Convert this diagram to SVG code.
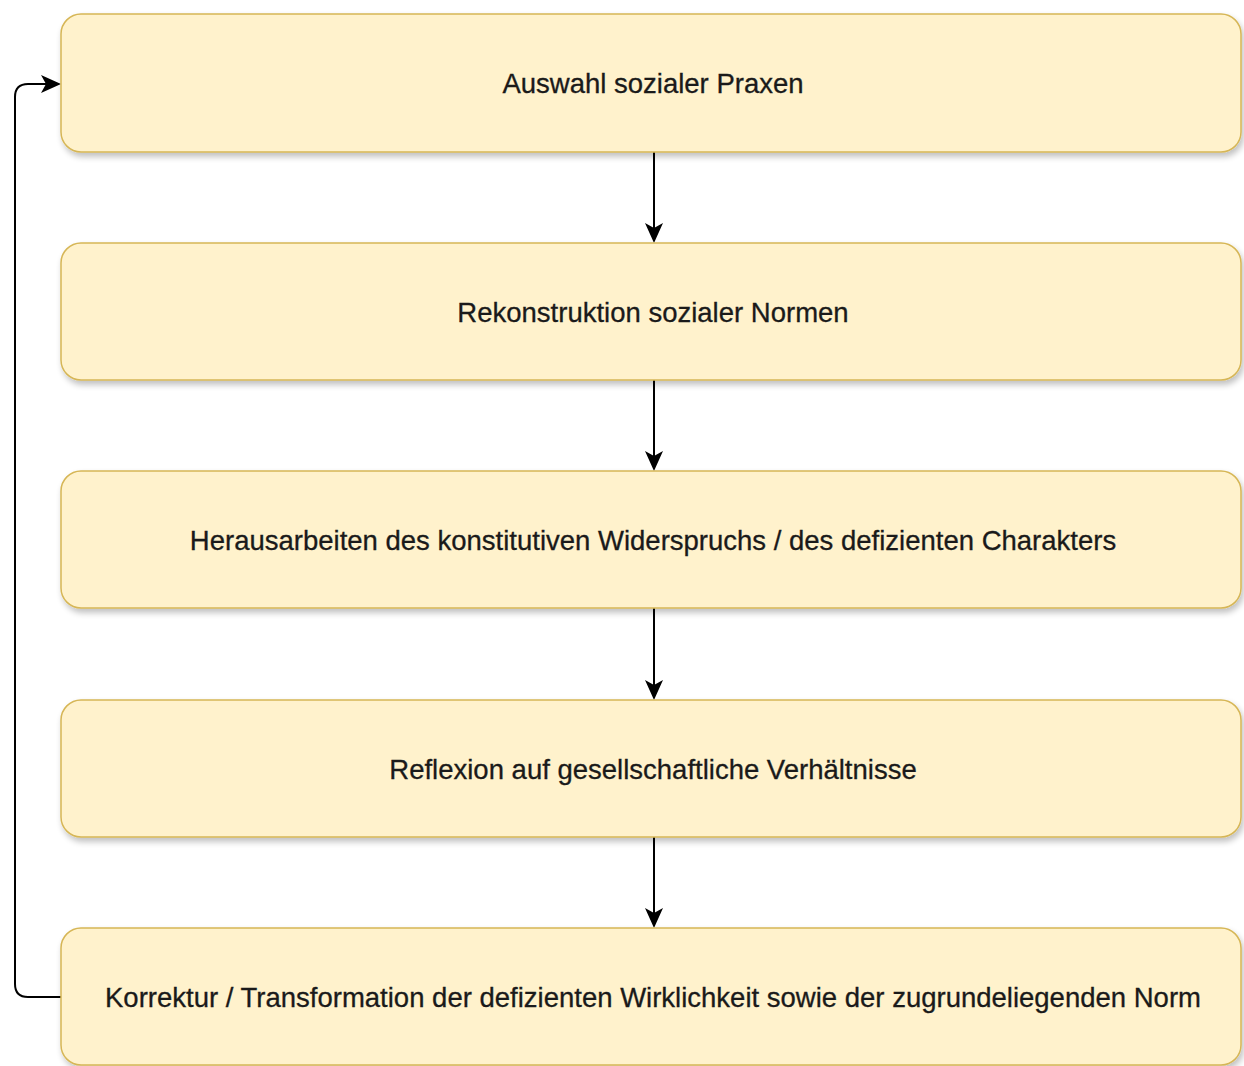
<svg xmlns="http://www.w3.org/2000/svg" width="1244" height="1066" viewBox="0 0 1244 1066">
<style>
.box{fill:#fff2cc;stroke:#d6b656;stroke-width:1.5;filter:url(#sh)}
.lbl{font-family:"Liberation Sans",Arial,sans-serif;font-size:27.5px;fill:#1a1a1a;stroke:#1a1a1a;stroke-width:0.3;text-anchor:middle;dominant-baseline:central}
.edge{fill:none;stroke:#000;stroke-width:2}
</style>
<defs>
<filter id="sh" x="-5%" y="-10%" width="110%" height="130%">
<feGaussianBlur in="SourceAlpha" stdDeviation="3"/>
<feOffset dx="2" dy="4" result="b"/>
<feComponentTransfer><feFuncA type="linear" slope="0.25"/></feComponentTransfer>
<feMerge><feMergeNode/><feMergeNode in="SourceGraphic"/></feMerge>
</filter>
<marker id="ah2" viewBox="0 0 10 10" refX="9" refY="5" markerWidth="20" markerHeight="20" markerUnits="userSpaceOnUse" orient="auto">
<path d="M0,0.5 L10,5 L0,9.5 L2.5,5 Z" fill="#000"/>
</marker>
</defs>
<g id="connectors">
<path class="edge" d="M654,152 V241" marker-end="url(#ah2)"/>
<path class="edge" d="M654,380 V469" marker-end="url(#ah2)"/>
<path class="edge" d="M654,608 V698" marker-end="url(#ah2)"/>
<path class="edge" d="M654,837 V926" marker-end="url(#ah2)"/>
<path class="edge" d="M61,997 H28 Q15,997 15,984 V97 Q15,84 28,84 H59" marker-end="url(#ah2)"/>
</g>
<g id="n1"><rect class="box" x="61" y="14" width="1180" height="138" rx="20"/><text class="lbl" x="653" y="83">Auswahl sozialer Praxen</text></g>
<g id="n2"><rect class="box" x="61" y="243" width="1180" height="137" rx="20"/><text class="lbl" x="653" y="312">Rekonstruktion sozialer Normen</text></g>
<g id="n3"><rect class="box" x="61" y="471" width="1180" height="137" rx="20"/><text class="lbl" x="653" y="540">Herausarbeiten des konstitutiven Widerspruchs / des defizienten Charakters</text></g>
<g id="n4"><rect class="box" x="61" y="700" width="1180" height="137" rx="20"/><text class="lbl" x="653" y="769">Reflexion auf gesellschaftliche Verhältnisse</text></g>
<g id="n5"><rect class="box" x="61" y="928" width="1180" height="137" rx="20"/><text class="lbl" x="653" y="997">Korrektur / Transformation der defizienten Wirklichkeit sowie der zugrundeliegenden Norm</text></g>
</svg>
